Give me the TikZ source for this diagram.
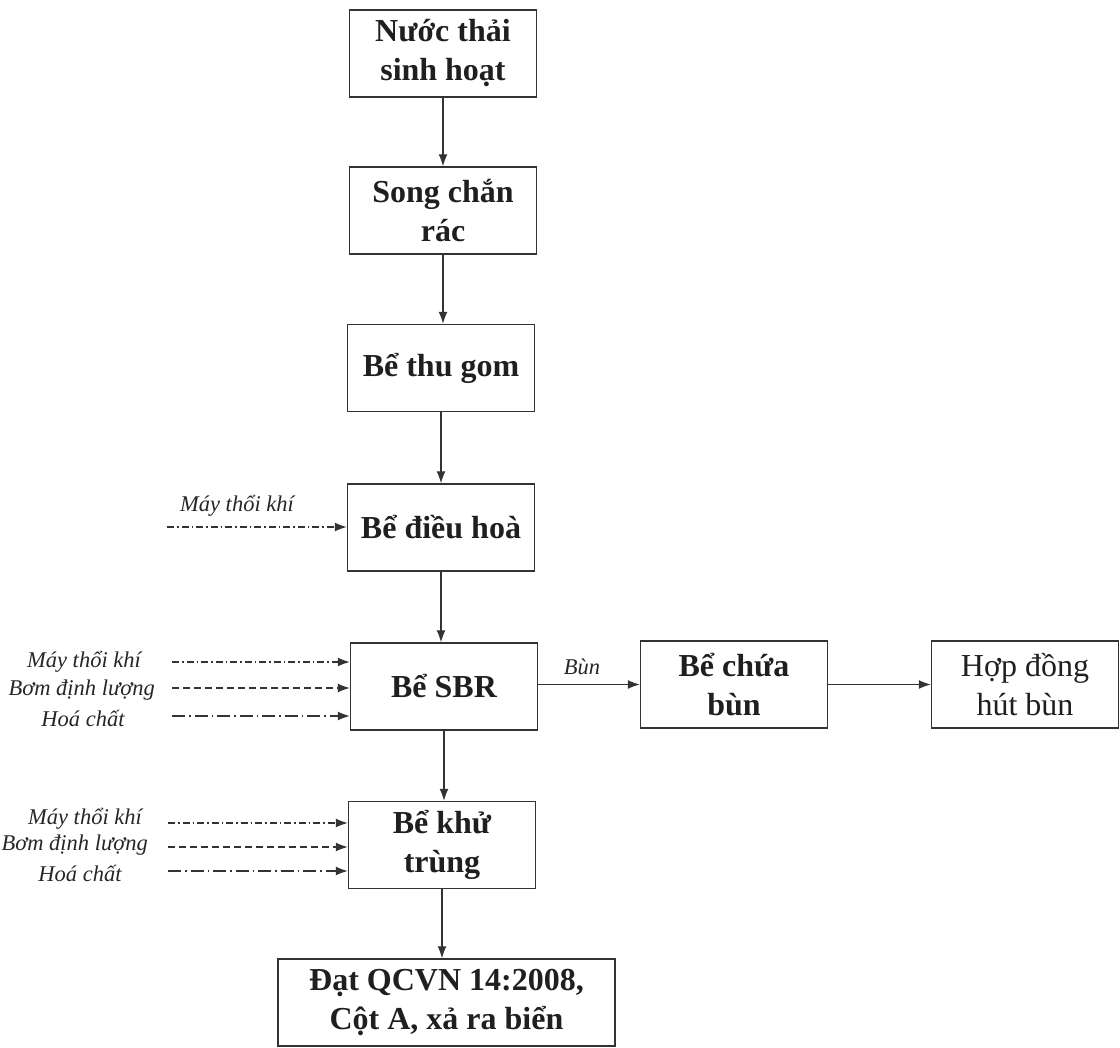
\documentclass[tikz,border=0pt]{standalone}
\usepackage{fontspec}
\setmainfont{Liberation Serif}
\usetikzlibrary{arrows.meta}
\begin{document}
\begin{tikzpicture}[x=1pt,y=-1pt,
  box/.style={draw=black!80, line width=1.4pt, minimum width=187pt, minimum height=87pt,
    inner sep=0pt, align=center, font=\fontsize{32}{39}\selectfont\bfseries, text=black!88},
  plainbox/.style={box, font=\fontsize{32}{39}\selectfont},
  lab/.style={font=\fontsize{22.5}{26}\selectfont\itshape, text=black!85, inner sep=0pt},
  flow/.style={-{Latex[length=12pt,width=9pt]}, line width=1.3pt, draw=black!80},
  airline/.style={flow, dash pattern=on 7pt off 3pt on 1.5pt off 3pt},
  pumpline/.style={flow, dash pattern=on 7pt off 4pt},
  chemline/.style={flow, dash pattern=on 13pt off 4pt on 1.5pt off 4pt}
]
\useasboundingbox (0,0) rectangle (1120,1048);

\node[box] (b1) at (443,53.5) {Nước thải\\sinh hoạt};
\node[box] (b2) at (443,210.5) {Song chắn\\rác};
\node[box] (b3) at (441,368) {Bể thu gom};
\node[box] (b4) at (441,527.5) {Bể điều hoà};
\node[box] (b5) at (444,686.5) {Bể SBR};
\node[box] (b6) at (442,845) {Bể khử\\trùng};
\node[box, minimum width=337pt] (b7) at (446.5,1002.5) {Đạt QCVN 14:2008,\\Cột A, xả ra biển};
\node[box] (bc) at (734,684.5) {Bể chứa\\bùn};
\node[plainbox] (hd) at (1025,684.5) {Hợp đồng\\hút bùn};

% main flow
\draw[flow] (b1.south) -- (b1.south |- b2.north);
\draw[flow] (b2.south) -- (b2.south |- b3.north);
\draw[flow] (b3.south) -- (b3.south |- b4.north);
\draw[flow] (b4.south) -- (b4.south |- b5.north);
\draw[flow] (b5.south) -- (b5.south |- b6.north);
\draw[flow] (b6.south) -- (b6.south |- b7.north);
\draw[flow] (b5.east |- bc.west) -- (bc.west);
\draw[flow] (bc.east) -- (hd.west);
\node[lab] (bun) at (582,667) {Bùn};

% inputs to Be dieu hoa
\node[lab, anchor=base] (l4) at (237,512) {Máy thổi khí};
\coordinate (s4) at (167,527);
\draw[airline] (s4) -- (b4.west |- s4);

% inputs to Be SBR
\node[lab] (l5a) at (84,662) {Máy thổi khí};
\node[lab, anchor=east] (l5b) at (155,690) {Bơm định lượng};
\node[lab] (l5c) at (83,718) {Hoá chất};
\coordinate (s5a) at (172,662);
\coordinate (s5b) at (172,688);
\coordinate (s5c) at (172,716);
\draw[airline] (s5a) -- (b5.west |- s5a);
\draw[pumpline] (s5b) -- (b5.west |- s5b);
\draw[chemline] (s5c) -- (b5.west |- s5c);

% inputs to Be khu trung
\node[lab] (l6a) at (85,819) {Máy thổi khí};
\node[lab, anchor=east] (l6b) at (148,845) {Bơm định lượng};
\node[lab] (l6c) at (80,873) {Hoá chất};
\coordinate (s6a) at (168,823);
\coordinate (s6b) at (168,847);
\coordinate (s6c) at (168,871);
\draw[airline] (s6a) -- (b6.west |- s6a);
\draw[pumpline] (s6b) -- (b6.west |- s6b);
\draw[chemline] (s6c) -- (b6.west |- s6c);
\end{tikzpicture}
\end{document}
